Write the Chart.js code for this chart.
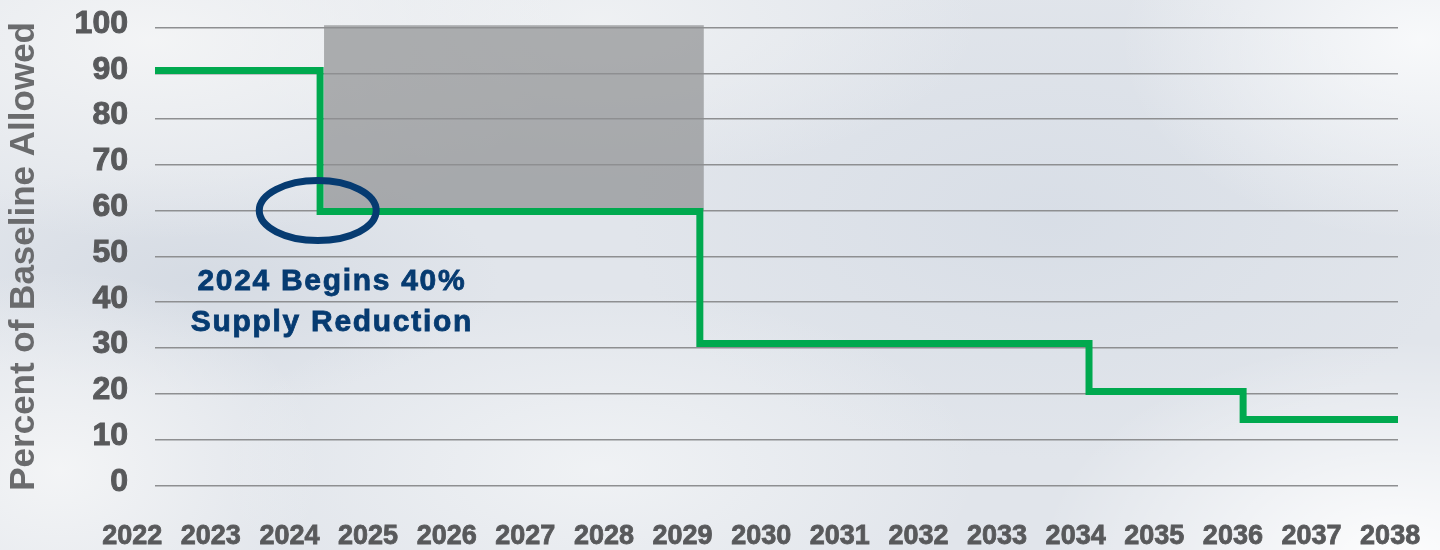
<!DOCTYPE html>
<html>
<head>
<meta charset="utf-8">
<script src="https://cdn.jsdelivr.net/npm/chart.js@4.4.1/dist/chart.umd.min.js"></script>
<style>
  html, body {
    margin: 0;
    padding: 0;
    width: 1440px;
    height: 550px;
    overflow: hidden;
  }
  body {
    background-color: #e1e5eb;
    background-image:
      radial-gradient(ellipse 360px 220px at 1400px 560px, rgba(255,255,255,0.95), rgba(255,255,255,0) 100%),
      radial-gradient(ellipse 300px 200px at 1420px 40px, rgba(250,251,252,0.9), rgba(250,251,252,0) 100%),
      radial-gradient(ellipse 420px 200px at 150px 40px, rgba(244,245,246,0.95), rgba(244,245,246,0) 100%),
      radial-gradient(ellipse 380px 160px at 600px 20px, rgba(240,242,244,0.9), rgba(240,242,244,0) 100%),
      radial-gradient(ellipse 260px 200px at 60px 470px, rgba(245,246,247,0.9), rgba(245,246,247,0) 100%),
      radial-gradient(ellipse 380px 180px at 600px 470px, rgba(242,244,246,0.85), rgba(242,244,246,0) 100%),
      radial-gradient(ellipse 300px 120px at 200px 280px, rgba(205,212,222,0.6), rgba(205,212,222,0) 100%),
      radial-gradient(ellipse 420px 240px at 1050px 220px, rgba(210,217,227,0.6), rgba(210,217,227,0) 100%);
  }
  canvas { position: absolute; left: 0; top: 0; }
</style>
</head>
<body>
<canvas id="phaseChart" width="1440" height="550"></canvas>
<script>
// HFC 감축 일정 (기준 대비 허용 비율)
const yearLabels = ['2022', '2023', '2024', '2025', '2026', '2027', '2028', '2029', '2030',
  '2031', '2032', '2033', '2034', '2035', '2036', '2037', '2038'];
const stepYears = [2022.29, 2024.39, 2029.22, 2034.17, 2036.13, 2038.1];
const allowedPct = [90.6, 59.8, 31, 20.5, 14.4, 14.4];

// 회색 구간 (2024~2029)
const shadeYears = [2024.44, 2029.27];
const shadePct = [60, 100.5];

// 주석
const markYear = 2024.36;
const markPct = 60;
const noteYear = 2024.54;
const notePct = 40;
const noteLines = ['2024 Begins 40%', 'Supply Reduction'];

const yTicks = [0, 10, 20, 30, 40, 50, 60, 70, 80, 90, 100];

const green = '#00a94f';
const navy = '#063b71';
const tickGray = '#58595b';

const shadePlugin = {
  id: 'shade',
  beforeDraw(chart) {
    const { ctx, scales: { x, y } } = chart;
    const x0 = x.getPixelForValue(shadeYears[0]);
    const x1 = x.getPixelForValue(shadeYears[1]);
    const y0 = y.getPixelForValue(shadePct[1]);
    const y1 = y.getPixelForValue(shadePct[0]);
    ctx.save();
    ctx.fillStyle = 'rgba(138,140,142,0.68)';
    ctx.fillRect(x0, y0, x1 - x0, y1 - y0);
    ctx.restore();
  },
};

const notePlugin = {
  id: 'note',
  afterDatasetsDraw(chart) {
    const { ctx, scales: { x, y } } = chart;
    ctx.save();
    // 타원
    ctx.strokeStyle = navy;
    ctx.lineWidth = 7;
    ctx.beginPath();
    ctx.ellipse(x.getPixelForValue(markYear), y.getPixelForValue(markPct), 58.5, 30, 0, 0, Math.PI * 2);
    ctx.stroke();

    // 텍스트
    ctx.fillStyle = navy;
    ctx.strokeStyle = navy;
    ctx.lineWidth = 0.8;
    ctx.font = 'bold 30px "Liberation Sans", Arial, sans-serif';
    ctx.letterSpacing = '1.7px';
    ctx.textAlign = 'center';
    ctx.textBaseline = 'middle';
    const cx = x.getPixelForValue(noteYear);
    const cy = y.getPixelForValue(notePct);
    noteLines.forEach((line, i) => {
      const ly = i === 0 ? cy - 20 : cy + 21;
      ctx.fillText(line, cx, ly);
      ctx.strokeText(line, cx, ly);
    });
    ctx.restore();
  },
};

const ctx = document.getElementById('phaseChart').getContext('2d');

new Chart(ctx, {
  type: 'line',
  data: {
    datasets: [
      {
        label: 'Percent of Baseline Allowed',
        data: stepYears.map((yr, i) => ({ x: yr, y: allowedPct[i] })),
        borderColor: green,
        backgroundColor: green,
        borderWidth: 7,
        stepped: true,
        pointRadius: 0,
        fill: false,
        borderJoinStyle: 'miter',
        borderCapStyle: 'butt',
      },
    ],
  },
  options: {
    responsive: false,
    animation: false,
    layout: {
      padding: { left: 0, right: 42, top: 27.5, bottom: 0 },
    },
    plugins: {
      legend: { display: false },
      tooltip: { enabled: false },
    },
    scales: {
      x: {
        type: 'linear',
        min: stepYears[0],
        max: stepYears[stepYears.length - 1],
        grid: { display: false, drawTicks: false },
        border: { display: false },
        afterBuildTicks: (scale) => {
          scale.ticks = yearLabels.map((yr) => ({ value: Number(yr) }));
        },
        afterFit: (scale) => {
          scale.height = 64.7;
          scale.paddingLeft = 0;
          scale.paddingRight = 0;
        },
        ticks: {
          autoSkip: false,
          maxRotation: 0,
          padding: 35,
          color: tickGray,
          textStrokeColor: tickGray,
          textStrokeWidth: 0.8,
          font: { family: '"Liberation Sans", Arial, sans-serif', size: 27, weight: 'bold' },
          callback: (v, i) => yearLabels[i],
        },
      },
      y: {
        min: 0,
        max: 100,
        afterBuildTicks: (scale) => {
          scale.ticks = yTicks.map((v) => ({ value: v }));
        },
        afterFit: (scale) => {
          scale.width = 155;
          scale.paddingTop = 0;
          scale.paddingBottom = 0;
        },
        grid: {
          color: '#8e8f91',
          lineWidth: 1.5,
          drawTicks: false,
        },
        border: { display: false },
        ticks: {
          padding: 27,
          labelOffset: -3.5,
          color: tickGray,
          textStrokeColor: tickGray,
          textStrokeWidth: 1,
          font: { family: '"Liberation Sans", Arial, sans-serif', size: 32, weight: 'bold' },
        },
        title: {
          display: true,
          text: 'Percent of Baseline Allowed',
          color: '#6a6b6d',
          padding: { top: 3, bottom: 0 },
          font: { family: '"Liberation Sans", Arial, sans-serif', size: 35, weight: 'bold' },
        },
      },
    },
  },
  plugins: [shadePlugin, notePlugin],
});
</script>
</body>
</html>
